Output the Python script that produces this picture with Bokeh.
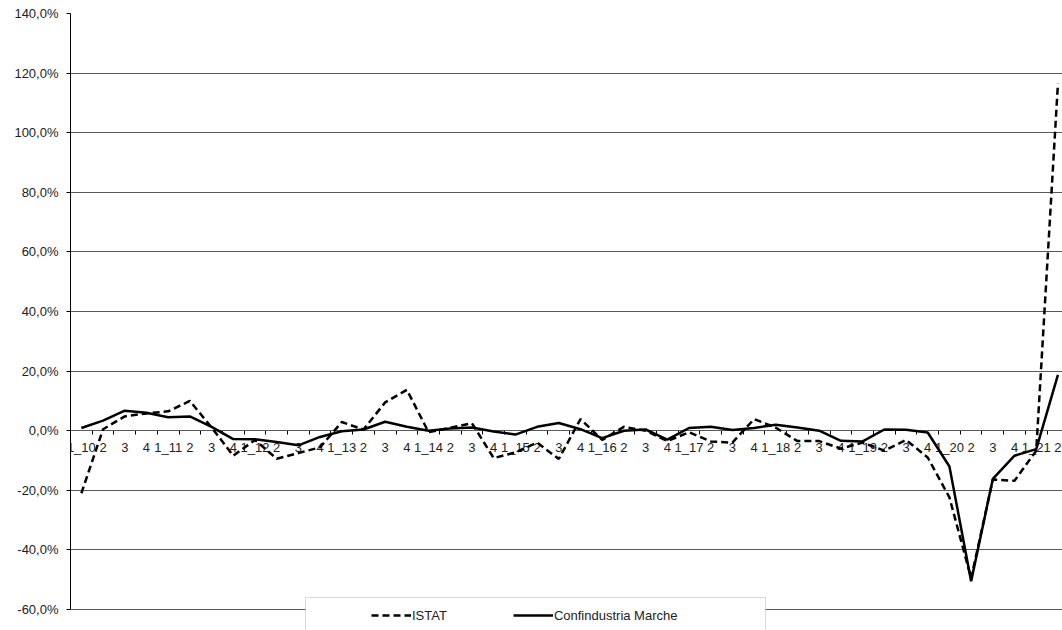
from bokeh.plotting import figure
from bokeh.models import (Range1d, FixedTicker, Legend, LegendItem, BoxAnnotation)
from bokeh.embed import file_html
from bokeh.resources import INLINE

quarters = ["1_10", "2", "3", "4", "1_11", "2", "3", "4", "1_12", "2", "3", "4",
            "1_13", "2", "3", "4", "1_14", "2", "3", "4", "1_15", "2", "3", "4",
            "1_16", "2", "3", "4", "1_17", "2", "3", "4", "1_18", "2", "3", "4",
            "1_19", "2", "3", "4", "1_20", "2", "3", "4", "1_21", "2"]

istat = [-21.0, 0.5, 4.8, 5.8, 6.5, 10.0, 1.1, -8.4, -3.1, -9.4, -7.5, -5.6,
         2.9, 0.4, 9.5, 13.7, -0.5, 1.0, 2.5, -9.2, -7.3, -4.0, -9.5, 3.9,
         -3.1, 1.3, 0.0, -3.5, -0.5, -3.6, -4.0, 3.9, 1.0, -3.5, -3.5, -6.0,
         -4.0, -6.7, -3.1, -9.0, -22.4, -49.5, -16.4, -16.8, -6.7, 116.5]

confindustria = [0.9, 3.4, 6.7, 6.0, 4.5, 4.8, 1.3, -2.8, -2.9, -3.8, -4.9, -2.1,
                 -0.2, 0.4, 3.0, 1.3, 0.0, 0.7, 1.1, -0.3, -1.3, 1.3, 2.6, 0.5,
                 -2.5, 0.0, 0.4, -3.0, 0.9, 1.3, 0.2, 0.9, 2.0, 1.1, 0.0, -3.4,
                 -3.6, 0.4, 0.3, -0.6, -12.0, -50.5, -16.2, -8.4, -6.2, 18.7]

y_ticks = [-60, -40, -20, 0, 20, 40, 60, 80, 100, 120, 140]
y_tick_labels = ["-60,0%", "-40,0%", "-20,0%", "0,0%", "20,0%", "40,0%",
                 "60,0%", "80,0%", "100,0%", "120,0%", "140,0%"]

FONT = "Liberation Sans"
xs = list(range(len(quarters)))

p = figure(width=1062, height=630, output_backend="svg", toolbar_location=None,
           x_range=Range1d(-0.5, 45.21), y_range=Range1d(-67.05, 140),
           min_border_left=70, min_border_right=0, min_border_top=13,
           min_border_bottom=0)
p.outline_line_color = None
p.background_fill_color = "white"

# grids
p.xgrid.visible = False
p.ygrid.ticker = FixedTicker(ticks=y_ticks)
p.ygrid.grid_line_color = "#5a5a5a"
p.ygrid.grid_line_width = 1

# y axis
ya = p.yaxis[0]
ya.ticker = FixedTicker(ticks=y_ticks)
ya.bounds = (-60, 140)
ya.major_label_overrides = {t: l for t, l in zip(y_ticks, y_tick_labels)}
ya.axis_line_color = "black"
ya.major_tick_line_color = "black"
ya.major_tick_out = 4
ya.major_tick_in = 0
ya.minor_tick_line_color = None
ya.major_label_standoff = 8
ya.major_label_text_font = FONT
ya.major_label_text_font_size = "13px"
ya.major_label_text_color = "#222222"

# x axis at zero
xa = p.xaxis[0]
xa.fixed_location = 0
xa.ticker = FixedTicker(ticks=xs, minor_ticks=[i - 0.5 for i in range(len(quarters) + 1)])
xa.major_label_overrides = {i: q for i, q in zip(xs, quarters)}
xa.axis_line_color = "black"
xa.major_tick_line_color = None
xa.major_tick_out = 0
xa.major_tick_in = 0
xa.minor_tick_line_color = "black"
xa.minor_tick_out = 4
xa.minor_tick_in = 0
xa.major_label_standoff = 5
xa.major_label_text_font = FONT
xa.major_label_text_font_size = "13px"
xa.major_label_text_color = "#222222"
xa.level = "underlay"

r1 = p.line(xs, istat, line_color="black", line_width=2.5, line_dash="7 4")
r2 = p.line(xs, confindustria, line_color="black", line_width=2.5)

box = BoxAnnotation(left=235, right=695, top=33, bottom=-10,
                    left_units="screen", right_units="screen",
                    top_units="screen", bottom_units="screen",
                    fill_color="white", fill_alpha=1.0,
                    line_color="#808080", line_width=1, level="annotation")
p.add_layout(box)

legend = Legend(items=[LegendItem(label="ISTAT", renderers=[r1]),
                       LegendItem(label="Confindustria Marche", renderers=[r2])],
                location=(301, 7), orientation="horizontal",
                glyph_width=40, glyph_height=16, label_standoff=1, spacing=66,
                padding=0, margin=0, border_line_color=None,
                background_fill_alpha=0.0,
                label_text_font=FONT, label_text_font_size="13px",
                label_text_color="#222222", label_height=16)
p.add_layout(legend)

open("out.html", "w").write(file_html(p, INLINE))
